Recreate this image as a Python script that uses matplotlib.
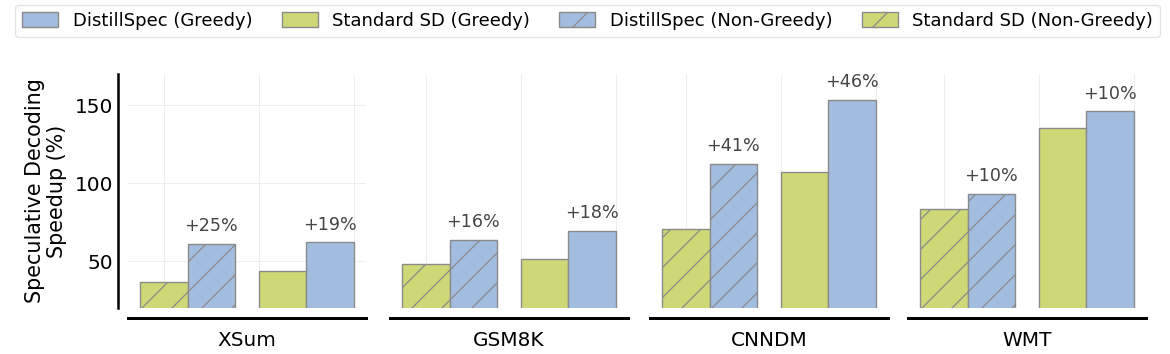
import matplotlib
matplotlib.use("Agg")
import matplotlib.pyplot as plt
from matplotlib.patches import Patch

# ------------------------------------------------------------
# Data (speedup %)
# ------------------------------------------------------------
datasets = ["XSum", "GSM8K", "CNNDM", "WMT"]
sd_nongreedy = [36.9, 48.3, 70.9, 83.4]
ds_nongreedy = [61.2, 63.8, 112.2, 93.2]
sd_greedy = [43.5, 51.5, 107.2, 135.4]
ds_greedy = [62.1, 69.6, 153.2, 146.0]
gain_nongreedy = ["+25%", "+16%", "+41%", "+10%"]
gain_greedy = ["+19%", "+18%", "+46%", "+10%"]

BLUE = "#a2bde0"
GREEN = "#cfd877"
EDGE = "#8a8a8a"

# low dpi so the default hatch spacing matches the reference
DPI = 90
plt.rcParams["hatch.linewidth"] = 1.0
plt.rcParams["font.family"] = "DejaVu Sans"

fig = plt.figure(figsize=(1170 / DPI, 354 / DPI), dpi=DPI)

W, H = 1170, 354
lefts = [128, 390, 650, 908]
ax_w = 238
top, bottom = 74, 308

width = 0.5
x_ng = 0.0           # non-greedy group (SD bar centre)
x_g = 1.25           # greedy group (SD bar centre)

for i, name in enumerate(datasets):
    ax = fig.add_axes([lefts[i] / W, 1 - bottom / H, ax_w / W, (bottom - top) / H])

    bar_kw = dict(width=width, edgecolor=EDGE, linewidth=1.1, zorder=3)
    ax.bar(x_ng, sd_nongreedy[i], color=GREEN, hatch="/", **bar_kw)
    ax.bar(x_ng + width, ds_nongreedy[i], color=BLUE, hatch="/", **bar_kw)
    ax.bar(x_g, sd_greedy[i], color=GREEN, **bar_kw)
    ax.bar(x_g + width, ds_greedy[i], color=BLUE, **bar_kw)

    ax.annotate(gain_nongreedy[i], (x_ng + width, ds_nongreedy[i]),
                xytext=(0, 7), textcoords="offset points",
                ha="center", va="bottom", fontsize=14, color="#444444")
    ax.annotate(gain_greedy[i], (x_g + width, ds_greedy[i]),
                xytext=(0, 7), textcoords="offset points",
                ha="center", va="bottom", fontsize=14, color="#444444")

    ax.set_xlim(-0.38, 2.13)
    ax.set_ylim(20, 170)
    ax.set_xticks([0, 1, 2])
    ax.set_xticklabels([])
    ax.tick_params(axis="both", length=0, pad=4, labelsize=16)
    ax.grid(True, color="#eeeeee", linewidth=0.8, zorder=0)
    ax.set_axisbelow(True)

    ax.set_xlabel(name, fontsize=16, labelpad=6)
    for s in ["top", "right"]:
        ax.spines[s].set_visible(False)
    ax.spines["bottom"].set_position(("outward", 8))
    ax.spines["bottom"].set_linewidth(2.4)
    ax.spines["bottom"].set_color("black")

    if i == 0:
        ax.set_yticks([50, 100, 150])
        ax.spines["left"].set_position(("outward", 8))
        ax.spines["left"].set_linewidth(2.0)
        ax.spines["left"].set_color("black")
        ax.set_ylabel("Speculative Decoding\nSpeedup (%)", fontsize=16.5, labelpad=6,
                      linespacing=1.15)
    else:
        ax.set_yticks([])
        ax.spines["left"].set_visible(False)

handles = [
    Patch(facecolor=BLUE, edgecolor=EDGE, linewidth=1.1, label="DistillSpec (Greedy)"),
    Patch(facecolor=GREEN, edgecolor=EDGE, linewidth=1.1, label="Standard SD (Greedy)"),
    Patch(facecolor=BLUE, edgecolor=EDGE, linewidth=1.1, hatch="/", label="DistillSpec (Non-Greedy)"),
    Patch(facecolor=GREEN, edgecolor=EDGE, linewidth=1.1, hatch="/", label="Standard SD (Non-Greedy)"),
]
fig.legend(handles=handles, loc="lower left", ncol=4, mode="expand",
           bbox_to_anchor=(15 / W, 1 - 37 / H, 1145 / W, 30 / H),
           fontsize=14.4, frameon=True, borderaxespad=0, handlelength=2.0,
           handleheight=0.9, fancybox=True, edgecolor="#dddddd")

fig.savefig("out.png", dpi=DPI)
